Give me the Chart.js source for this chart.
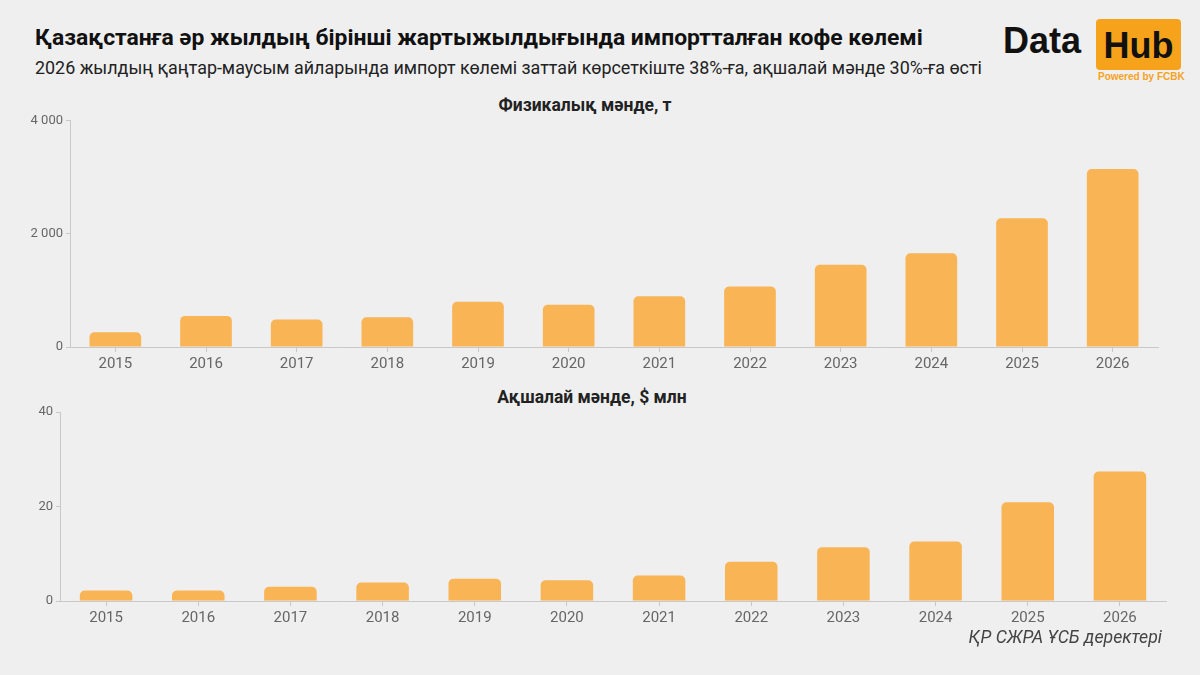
<!DOCTYPE html>
<html>
<head>
<meta charset="utf-8">
<script src="https://cdn.jsdelivr.net/npm/chart.js@4/dist/chart.umd.min.js"></script>
<style>
  html, body { margin: 0; padding: 0; }
  body {
    width: 1200px; height: 675px; position: relative; overflow: hidden;
    background: #efefef; font-family: Roboto, sans-serif;
  }
  .abs { position: absolute; white-space: nowrap; }
  #title { left: 35px; top: 24px; font-size: 22.9px; font-weight: 700; color: #111; }
  #subtitle { left: 35px; top: 57px; font-size: 17.9px; color: #222; }
  .panel-title { font-size: 17.5px; font-weight: 700; color: #222; transform: translateX(-50%); }
  #source { right: 38px; top: 627px; font-size: 17.7px; font-style: italic; color: #444; }
  #logo-data { left: 1003px; top: 20px; font-size: 36px; font-weight: 700; color: #111; font-family: "Liberation Sans", Arial, sans-serif; }
  #logo-hub {
    left: 1096px; top: 19px; width: 85px; height: 51px; border-radius: 4px;
    background: #f7a21b; color: #111; font-size: 36px; font-weight: 700;
    text-align: center; line-height: 54px; font-family: "Liberation Sans", Arial, sans-serif;
  }
  #logo-powered { left: 1098px; top: 71px; font-size: 10px; font-weight: 700; color: #f7a21b; font-family: "Liberation Sans", Arial, sans-serif; }
  .chart-box { position: absolute; left: 0; width: 1200px; }
</style>
</head>
<body>
<div class="abs" id="title">Қазақстанға әр жылдың бірінші жартыжылдығында импортталған кофе көлемі</div>
<div class="abs" id="subtitle">2026 жылдың қаңтар-маусым айларында импорт көлемі заттай көрсеткіште 38%-ға, ақшалай мәнде 30%-ға өсті</div>

<div class="abs" id="logo-data">Data</div>
<div class="abs" id="logo-hub">Hub</div>
<div class="abs" id="logo-powered">Powered by FCBK</div>

<div class="abs panel-title" style="left:585px; top:95px;">Физикалық мәнде, т</div>
<div class="chart-box" style="top:110px; height:267px;"><canvas id="volume-chart"></canvas></div>

<div class="abs panel-title" style="left:592px; top:387px;">Ақшалай мәнде, $ млн</div>
<div class="chart-box" style="top:400px; height:231px;"><canvas id="value-chart"></canvas></div>

<div class="abs" id="source">ҚР СЖРА ҰСБ деректері</div>

<script>
  // Data.
  const years = ['2015', '2016', '2017', '2018', '2019', '2020', '2021', '2022', '2023', '2024', '2025', '2026'];
  const volumeTonnes = [261, 550, 487, 527, 800, 748, 898, 1071, 1454, 1657, 2278, 3148];
  const valueUsdMln = [2.2, 2.2, 3.0, 3.9, 4.7, 4.4, 5.4, 8.3, 11.4, 12.6, 20.9, 27.4];
  const volumeTicks = [0, 2000, 4000];
  const valueTicks = [0, 20, 40];

  const barColor = '#f8b455';
  const tickColor = '#666';
  const lineColor = '#c8c8c8';

  Chart.defaults.font.family = 'Roboto, sans-serif';
  Chart.defaults.animation = false;

  function formatThousands(value) {
    return String(value).replace(/\B(?=(\d{3})+(?!\d))/g, ' ');
  }

  function barConfig(data, ticks, axisWidth, rightPad, topPad) {
    return {
      type: 'bar',
      data: {
        labels: years,
        datasets: [
          {
            data: data,
            backgroundColor: barColor,
            borderRadius: { topLeft: 5, topRight: 5 },
            borderSkipped: 'bottom',
            categoryPercentage: 0.57,
            barPercentage: 1,
          },
        ],
      },
      options: {
        responsive: true,
        maintainAspectRatio: false,
        layout: {
          padding: { left: 0, right: rightPad, top: topPad, bottom: 0 },
        },
        plugins: {
          legend: { display: false },
          tooltip: { enabled: false },
          title: { display: false },
        },
        scales: {
          x: {
            grid: { offset: false, drawOnChartArea: false, drawTicks: true, tickLength: 5, color: lineColor },
            border: { display: true, color: lineColor },
            ticks: { color: tickColor, font: { size: 15 }, padding: 3 },
            afterFit: (scale) => { scale.height = 30; },
          },
          y: {
            min: ticks[0],
            max: ticks[ticks.length - 1],
            afterBuildTicks: (scale) => {
              scale.ticks = ticks.map((v) => ({ value: v }));
            },
            grid: { drawOnChartArea: false, drawTicks: true, tickLength: 4, color: lineColor },
            border: { display: true, color: lineColor },
            ticks: {
              color: tickColor,
              font: { size: 13 },
              padding: 3,
              callback: (value) => formatThousands(value),
            },
            afterFit: (scale) => { scale.width = axisWidth; },
          },
        },
      },
    };
  }

  let volumeChart = new Chart(document.getElementById('volume-chart'),
    barConfig(volumeTonnes, volumeTicks, 70, 42, 8));

  let valueChart = new Chart(document.getElementById('value-chart'),
    barConfig(valueUsdMln, valueTicks, 60, 34, 12));
</script>
</body>
</html>
